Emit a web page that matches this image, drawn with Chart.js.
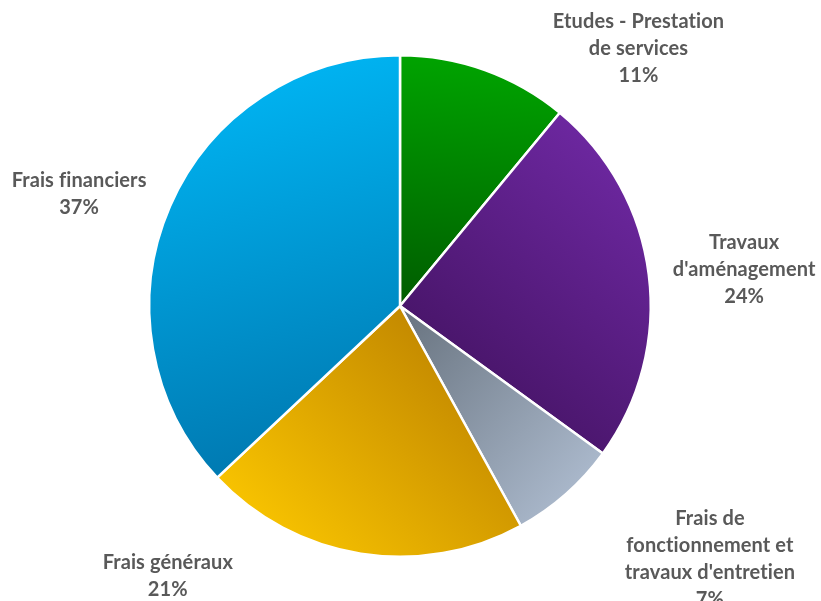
<!DOCTYPE html>
<html lang="fr">
<head>
<meta charset="utf-8">
<title>Répartition des dépenses</title>
<script src="https://cdn.jsdelivr.net/npm/chart.js@4"></script>
<style>
  html, body { margin: 0; padding: 0; background: #fff; }
  canvas { display: block; }
</style>
</head>
<body>
<canvas id="camembert" width="821" height="601"></canvas>
<script>
// Catégories (une ligne par élément du tableau) et parts en %
const categories = [
  ['Etudes - Prestation', 'de services'],
  ['Travaux', "d'aménagement"],
  ['Frais de', 'fonctionnement et', "travaux d'entretien"],
  ['Frais généraux'],
  ['Frais financiers']
];
const parts = [11, 24, 7, 21, 37];

// Dégradés : couleur sombre -> couleur claire, et sens du dégradé
// (degrés, 0 = vers le haut, sens horaire)
const couleursSombres = ['#005c00', '#4a166c', '#67727e', '#c48a00', '#007ab2'];
const couleursClaires = ['#00a300', '#6c279f', '#a9b7ca', '#f7c200', '#00b2f0'];
const sensDegrades = [5, 40, 130, 225, 345];

// Placement des étiquettes : décalage angulaire (degrés) et distance (x rayon)
const placementEtiquettes = [
  { angle: 23, dist: 1.40 },
  { angle: 1.2, dist: 1.38 },
  { angle: -9.4, dist: 1.595 },
  { angle: 31.7, dist: 1.42 },
  { angle: -4.1, dist: 1.356 }
];

const canvas = document.getElementById('camembert');

// Dégradé linéaire calé sur l'étendue de chaque part dans la direction voulue
const degradesParts = {
  id: 'degradesParts',
  beforeDatasetsDraw(chart) {
    const ctx = chart.ctx;
    chart.getDatasetMeta(0).data.forEach((arc, i) => {
      const p = arc.getProps(['x', 'y', 'startAngle', 'endAngle', 'outerRadius'], true);
      const sens = (sensDegrades[i] - 90) * Math.PI / 180;
      const dx = Math.cos(sens), dy = Math.sin(sens);
      // points du contour : centre + arc
      let mini = 0, maxi = 0;
      for (let k = 0; k <= 40; k++) {
        const a = p.startAngle + (p.endAngle - p.startAngle) * k / 40;
        const proj = (Math.cos(a) * dx + Math.sin(a) * dy) * p.outerRadius;
        mini = Math.min(mini, proj);
        maxi = Math.max(maxi, proj);
      }
      const g = ctx.createLinearGradient(
        p.x + dx * mini, p.y + dy * mini,
        p.x + dx * maxi, p.y + dy * maxi
      );
      g.addColorStop(0, couleursSombres[i]);
      g.addColorStop(1, couleursClaires[i]);
      arc.options.backgroundColor = g;
    });
  }
};

// Étiquettes extérieures : nom de la catégorie + pourcentage
const etiquettesExterieures = {
  id: 'etiquettesExterieures',
  afterDatasetsDraw(chart) {
    const ctx = chart.ctx;
    const valeurs = chart.data.datasets[0].data;
    const total = valeurs.reduce((a, b) => a + b, 0);
    const hauteurLigne = 27;
    ctx.save();
    ctx.font = 'bold 20px Lato, "DejaVu Sans", sans-serif';
    ctx.letterSpacing = '0.1px'; // évite les ligatures "fi" / "ti"
    ctx.fillStyle = '#595959';
    ctx.textAlign = 'center';
    ctx.textBaseline = 'middle';
    chart.getDatasetMeta(0).data.forEach((arc, i) => {
      const p = arc.getProps(['x', 'y', 'startAngle', 'endAngle', 'outerRadius'], true);
      const place = placementEtiquettes[i];
      const angle = (p.startAngle + p.endAngle) / 2 + place.angle * Math.PI / 180;
      const cx = p.x + Math.cos(angle) * p.outerRadius * place.dist;
      const cy = p.y + Math.sin(angle) * p.outerRadius * place.dist;
      const lignes = [...chart.data.labels[i], Math.round(valeurs[i] / total * 100) + '%'];
      lignes.forEach((texte, n) => {
        ctx.fillText(texte, cx, cy + (n - (lignes.length - 1) / 2) * hauteurLigne);
      });
    });
    ctx.restore();
  }
};

const graphique = new Chart(canvas, {
  type: 'pie',
  data: {
    labels: categories,
    datasets: [{
      data: parts,
      backgroundColor: couleursClaires,
      borderColor: '#ffffff',
      borderWidth: 2.5,
      hoverOffset: 0,
      offset: 0
    }]
  },
  options: {
    responsive: false,
    animation: false,
    events: [],
    layout: {
      padding: { left: 148, top: 54, right: 169, bottom: 43 }
    },
    plugins: {
      legend: { display: false },
      tooltip: { enabled: false }
    }
  },
  plugins: [degradesParts, etiquettesExterieures]
});
</script>
</body>
</html>
